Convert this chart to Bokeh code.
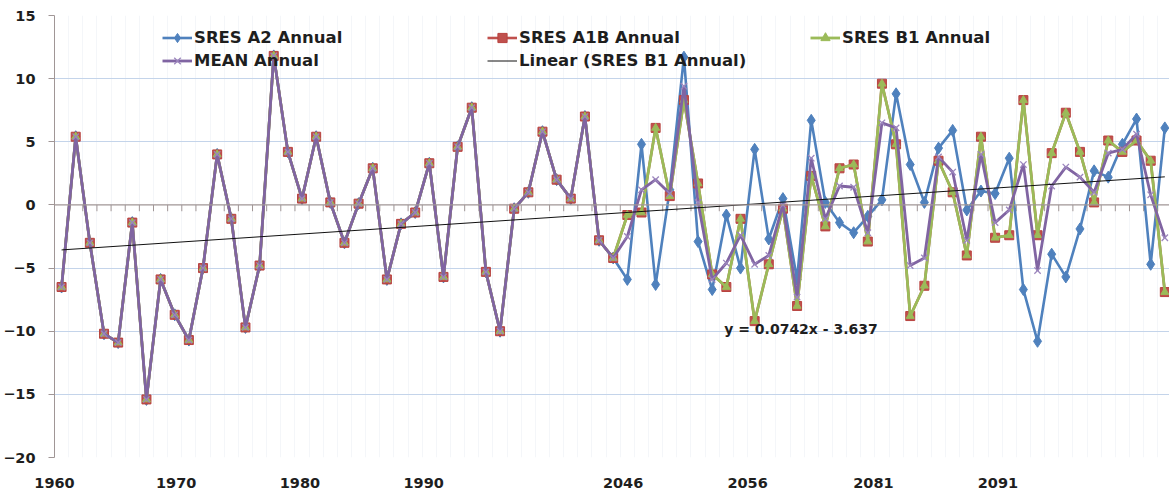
from bokeh.plotting import figure
from bokeh.models import Range1d, FixedTicker, Legend, LegendItem, Label, Span
from bokeh.embed import file_html
from bokeh.resources import INLINE

# Category axis: observed years, then two scenario windows
years = list(range(1960, 2000)) + list(range(2046, 2066)) + list(range(2081, 2100))

# Observed anomalies (shared by every series)
observed = [
    -6.5, 5.4, -3.0, -10.2, -10.9, -1.4, -15.4, -5.9, -8.7, -10.7,
    -5.0, 4.0, -1.1, -9.7, -4.8, 11.8, 4.2, 0.5, 5.4, 0.2,
    -3.0, 0.1, 2.9, -5.9, -1.5, -0.6, 3.3, -5.7, 4.6, 7.7,
    -5.3, -10.0, -0.3, 1.0, 5.8, 2.0, 0.5, 7.0, -2.8, -4.2,
]

# Scenario projections
a2_future = [
    -5.9, 4.8, -6.3, 1.2, 11.7, -2.9, -6.7, -0.8, -5.0, 4.4,
    -2.7, 0.5, -5.9, 6.7, 0.2, -1.4, -2.2, -0.9, 0.4, 8.8,
    3.2, 0.2, 4.5, 5.9, -0.4, 1.1, 0.9, 3.7, -6.7, -10.8,
    -3.9, -5.7, -1.9, 2.7, 2.2, 4.8, 6.8, -4.7, 6.1,
]
a1b_future = [
    -0.8, -0.6, 6.1, 0.7, 8.3, 1.7, -5.5, -6.5, -1.1, -9.2,
    -4.7, -0.3, -8.0, 2.3, -1.7, 2.9, 3.2, -2.9, 9.6, 4.8,
    -8.8, -6.4, 3.5, 1.0, -4.0, 5.4, -2.6, -2.4, 8.3, -2.4,
    4.1, 7.3, 4.2, 0.2, 5.1, 4.2, 5.1, 3.5, -6.9,
]
b1_future = [
    -0.8, -0.6, 6.1, 0.7, 8.3, 1.7, -5.5, -6.5, -1.1, -9.2,
    -4.7, -0.3, -8.0, 2.3, -1.7, 2.9, 3.2, -2.9, 9.6, 4.8,
    -8.8, -6.4, 3.5, 1.0, -4.0, 5.4, -2.6, -2.4, 8.3, -2.4,
    4.1, 7.3, 4.2, 0.2, 5.1, 4.2, 5.1, 3.5, -6.9,
]
mean_future = [
    -2.5, 1.2, 2.0, 0.9, 9.4, 0.2, -5.9, -4.6, -2.4, -4.7,
    -4.0, 0.0, -7.3, 3.7, -1.1, 1.5, 1.4, -2.2, 6.5, 6.1,
    -4.8, -4.2, 3.8, 2.6, -2.8, 4.0, -1.4, -0.4, 3.2, -5.2,
    1.5, 3.0, 2.2, 1.0, 4.1, 4.4, 5.6, 0.8, -2.6,
]

sres_a2 = observed + a2_future
sres_a1b = observed + a1b_future
sres_b1 = observed + b1_future
mean_annual = observed + mean_future

# Linear trend of the B1 series (x counted from 1)
trend_slope = 0.0742
trend_intercept = -3.637
trend_text = "y = 0.0742x - 3.637"

# Category labels every tenth year, and where they sit along the axis
tick_labels = [str(years[i]) for i in range(0, len(years), 10)]
tick_pos = [-0.5, 8.1, 16.85, 25.6, 39.7, 48.5, 57.4, 66.2]

idx = list(range(len(years)))

FONT = "DejaVu Sans"
AXIS_GREY = "#a09696"

p = figure(width=1169, height=490, output_backend="svg", toolbar_location=None,
           x_range=Range1d(-0.5, 78.33), y_range=Range1d(-20, 15),
           min_border_left=52, min_border_right=0, min_border_top=15,
           min_border_bottom=32)
p.outline_line_color = None
p.background_fill_color = "white"

# y axis
p.yaxis.ticker = FixedTicker(ticks=[-20, -15, -10, -5, 0, 5, 10, 15])
p.yaxis.axis_line_color = AXIS_GREY
p.yaxis.major_tick_line_color = AXIS_GREY
p.yaxis.major_tick_out = 6
p.yaxis.major_tick_in = 0
p.yaxis.minor_tick_line_color = None
p.yaxis.major_label_standoff = 13
p.yaxis.major_label_text_font = FONT
p.yaxis.major_label_text_font_style = "bold"
p.yaxis.major_label_text_font_size = "14.5px"
p.yaxis.major_label_text_color = "#1e1e1e"

# x axis: labels only, the axis line itself runs along zero
p.xaxis.ticker = FixedTicker(ticks=tick_pos)
p.xaxis.major_label_overrides = {t: lab for t, lab in zip(tick_pos, tick_labels)}
p.xaxis.axis_line_color = None
p.xaxis.major_tick_line_color = None
p.xaxis.minor_tick_line_color = None
p.xaxis.major_label_standoff = 14
p.xaxis.major_label_text_font = FONT
p.xaxis.major_label_text_font_style = "bold"
p.xaxis.major_label_text_font_size = "14.5px"
p.xaxis.major_label_text_color = "#1e1e1e"

# grids
boundaries = [i - 0.5 for i in range(len(years) + 1)]
p.ygrid.ticker = FixedTicker(ticks=[-20, -15, -10, -5, 5, 10, 15])
p.ygrid.grid_line_color = "#c4d4ea"
p.ygrid.grid_line_width = 1
p.xgrid.ticker = FixedTicker(ticks=boundaries)
p.xgrid.grid_line_color = "#f4f6f9"
p.xgrid.grid_line_width = 1

# horizontal axis at zero with category tick marks
p.add_layout(Span(location=0, dimension="width", line_color=AXIS_GREY, line_width=1.2))
p.segment(x0=boundaries, y0=[0] * len(boundaries), x1=boundaries,
          y1=[-0.5] * len(boundaries), line_color=AXIS_GREY, line_width=1)

BLUE, RED, GREEN, PURPLE = "#4F81BD", "#C0504D", "#9BBB59", "#8064A2"

l_a2 = p.line(idx, sres_a2, line_color=BLUE, line_width=2.6)
m_a2 = p.scatter(idx, sres_a2, marker="diamond", size=12, fill_color=BLUE, line_color=BLUE)

l_a1b = p.line(idx, sres_a1b, line_color=RED, line_width=2.6)
m_a1b = p.scatter(idx, sres_a1b, marker="square", size=9, fill_color=RED, line_color="#b8433f")

l_b1 = p.line(idx, sres_b1, line_color=GREEN, line_width=2.8)
m_b1 = p.scatter(idx, sres_b1, marker="triangle", size=8, fill_color=GREEN, line_color=GREEN)

l_mean = p.line(idx, mean_annual, line_color=PURPLE, line_width=2.8)
m_mean = p.scatter(idx, mean_annual, marker="x", size=9, line_color="#9b85bd", line_width=1.3)

trend_x = [idx[0], idx[-1]]
trend_y = [trend_slope * (i + 1) + trend_intercept for i in trend_x]
l_trend = p.line(trend_x, trend_y, line_color="#111111", line_width=1)

p.add_layout(Label(x=46.85, y=-9.8, text=trend_text, text_font=FONT,
                   text_font_style="bold", text_font_size="14px",
                   text_color="#1e1e1e", text_baseline="middle", text_align="left"))


def make_legend(items, x):
    lg = Legend(items=items, location=(x, 443 - 11.5 - 23 * len(items)),
                orientation="vertical", padding=0, margin=0, spacing=0,
                glyph_width=30, glyph_height=23, label_height=23, label_standoff=2,
                border_line_color=None, background_fill_alpha=0,
                label_text_font=FONT, label_text_font_style="bold",
                label_text_font_size="16.5px", label_text_color="#1e1e1e")
    p.add_layout(lg)


make_legend([LegendItem(label="SRES A2 Annual", renderers=[l_a2, m_a2]),
             LegendItem(label="MEAN Annual", renderers=[l_mean, m_mean])], 108)
make_legend([LegendItem(label="SRES A1B Annual", renderers=[l_a1b, m_a1b]),
             LegendItem(label="Linear (SRES B1 Annual)", renderers=[l_trend])], 433)
make_legend([LegendItem(label="SRES B1 Annual", renderers=[l_b1, m_b1])], 756)

open("out.html", "w").write(file_html(p, INLINE))
